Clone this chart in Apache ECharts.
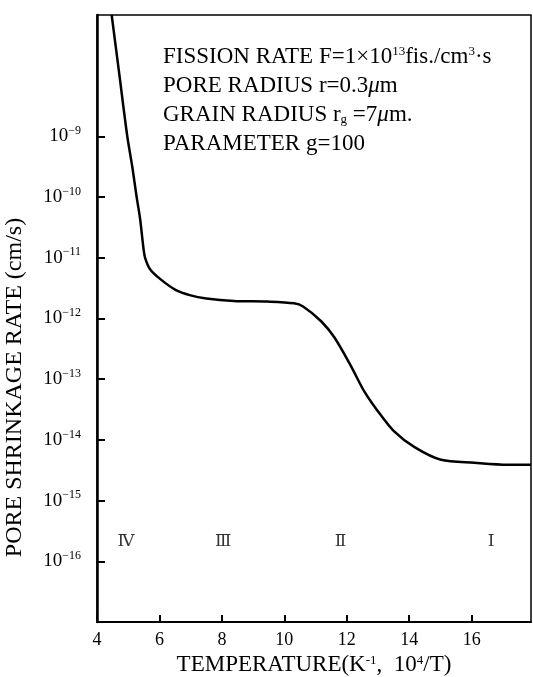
<!DOCTYPE html>
<html>
<head>
<meta charset="utf-8">
<script src="https://cdn.jsdelivr.net/npm/echarts@6/dist/echarts.min.js"></script>
<style>
html,body{margin:0;padding:0;background:#fff;}
#chart{width:533px;height:677px;}
</style>
</head>
<body>
<div id="chart"></div>
<script>
// Curve: x = 10^4/T (K^-1), y = pore shrinkage rate (cm/s)
const xValues = [4.47, 4.72, 4.97, 5.13, 5.27, 5.38, 5.49, 5.54, 5.70, 6.02, 6.50, 7.00, 7.50, 8.38, 9.45, 10.31, 10.60, 11.17, 11.60, 12.13, 12.56, 13.00, 13.50, 14.17, 15.02, 16.09, 17.16, 17.90];
const yValues = [1.0e-7, 1.0e-8, 1.0e-9, 3.16e-10, 1.0e-10, 4.4e-11, 1.41e-11, 1.0e-11, 6.5e-12, 4.5e-12, 3.0e-12, 2.4e-12, 2.14e-12, 1.95e-12, 1.9e-12, 1.78e-12, 1.58e-12, 9.1e-13, 4.9e-13, 1.66e-13, 6.3e-14, 2.95e-14, 1.41e-14, 7.6e-15, 4.7e-15, 4.2e-15, 3.9e-15, 3.9e-15];

// Region labels
const regionNames = ['Ⅳ', 'Ⅲ', 'Ⅱ', 'Ⅰ'];
const regionX = [4.93, 8.04, 11.8, 16.62];
const regionY = [2.1e-16, 2.1e-16, 2.1e-16, 2.1e-16];

// Axis ticks
const xTicks = [4, 6, 8, 10, 12, 14, 16];
const yTickExps = [-16, -15, -14, -13, -12, -11, -10, -9];

const FONT = 'Liberation Serif';

const chart = echarts.init(document.getElementById('chart'));
const option = {
  backgroundColor: '#fff',
  animation: false,
  grid: {
    left: 97, right: 2, top: 15, bottom: 55,
    outerBoundsMode: 'none',
    containLabel: false,
    show: true, borderColor: '#000', borderWidth: 1.5
  },
  xAxis: {
    type: 'value',
    min: 4, max: 17.9, interval: 2,
    splitLine: { show: false },
    axisLine: { lineStyle: { color: '#000', width: 2 } },
    axisTick: { inside: true, length: 7, lineStyle: { color: '#000', width: 2 }, customValues: xTicks },
    axisLabel: { color: '#000', fontFamily: FONT, fontSize: 18, margin: 9, customValues: xTicks },
    name: 'TEMPERATURE(K{s|-1},  10{s|4}/T)',
    nameLocation: 'middle',
    nameGap: 29,
    nameTextStyle: {
      color: '#000', fontFamily: FONT, fontSize: 23,
      rich: { s: { fontSize: 13, fontFamily: FONT, color: '#000', padding: [0, 0, 10, 0] } }
    }
  },
  yAxis: {
    type: 'log',
    logBase: 10,
    min: 1e-17, max: 1e-7,
    splitLine: { show: false },
    axisLine: { lineStyle: { color: '#000', width: 2.5 } },
    axisTick: { inside: true, length: 8, lineStyle: { color: '#000', width: 2 }, customValues: yTickExps.map(e => Math.pow(10, e)) },
    axisLabel: {
      color: '#000', fontFamily: FONT, fontSize: 19, margin: 16,
      customValues: yTickExps.map(e => Math.pow(10, e)),
      formatter: function (v) {
        const e = Math.round(Math.log10(v));
        return '10{s|' + (e < 0 ? '\u2212' + (-e) : e) + '}';
      },
      rich: { s: { fontSize: 12, fontFamily: FONT, color: '#000', padding: [0, 0, 11, 0] } }
    },
    name: 'PORE SHRINKAGE RATE (cm/s)',
    nameLocation: 'middle',
    nameGap: 70,
    nameTextStyle: { color: '#000', fontFamily: FONT, fontSize: 24, padding: [0, 138, 0, 0] }
  },
  graphic: [{
    type: 'text',
    left: 163, top: 45,
    style: {
      text: '{n|FISSION RATE F=1×10}{s|13}{n|fis./cm}{s|3}{n|·s}\n' +
            '{n|PORE RADIUS r=0.3}{i|μ}{n|m}\n' +
            '{n|GRAIN RADIUS r}{b|g}{n| =7}{i|μ}{n|m.}\n' +
            '{n|PARAMETER g=100}',
      fill: '#000',
      font: '23px ' + FONT,
      rich: {
        n: { fontSize: 23, fontFamily: FONT, fill: '#000', lineHeight: 29 },
        s: { fontSize: 13, fontFamily: FONT, fill: '#000', padding: [0, 0, 11, 0] },
        b: { fontSize: 13, fontFamily: FONT, fill: '#000', padding: [9, 0, 0, 0] },
        i: { fontSize: 23, fontFamily: FONT, fontStyle: 'italic', fill: '#000', lineHeight: 29 }
      }
    }
  }],
  series: [
    {
      type: 'line',
      data: xValues.map((x, i) => [x, yValues[i]]),
      smooth: 0.3,
      symbol: 'none',
      clip: true,
      lineStyle: { color: '#000', width: 2.5 }
    },
    {
      type: 'scatter',
      symbolSize: 0,
      data: regionX.map((x, i) => ({ value: [x, regionY[i]], name: regionNames[i] })),
      label: {
        show: true, position: 'inside', formatter: '{b}',
        color: '#000', fontFamily: 'DejaVu Serif', fontSize: 17
      }
    }
  ]
};
chart.setOption(option);
</script>
</body>
</html>
